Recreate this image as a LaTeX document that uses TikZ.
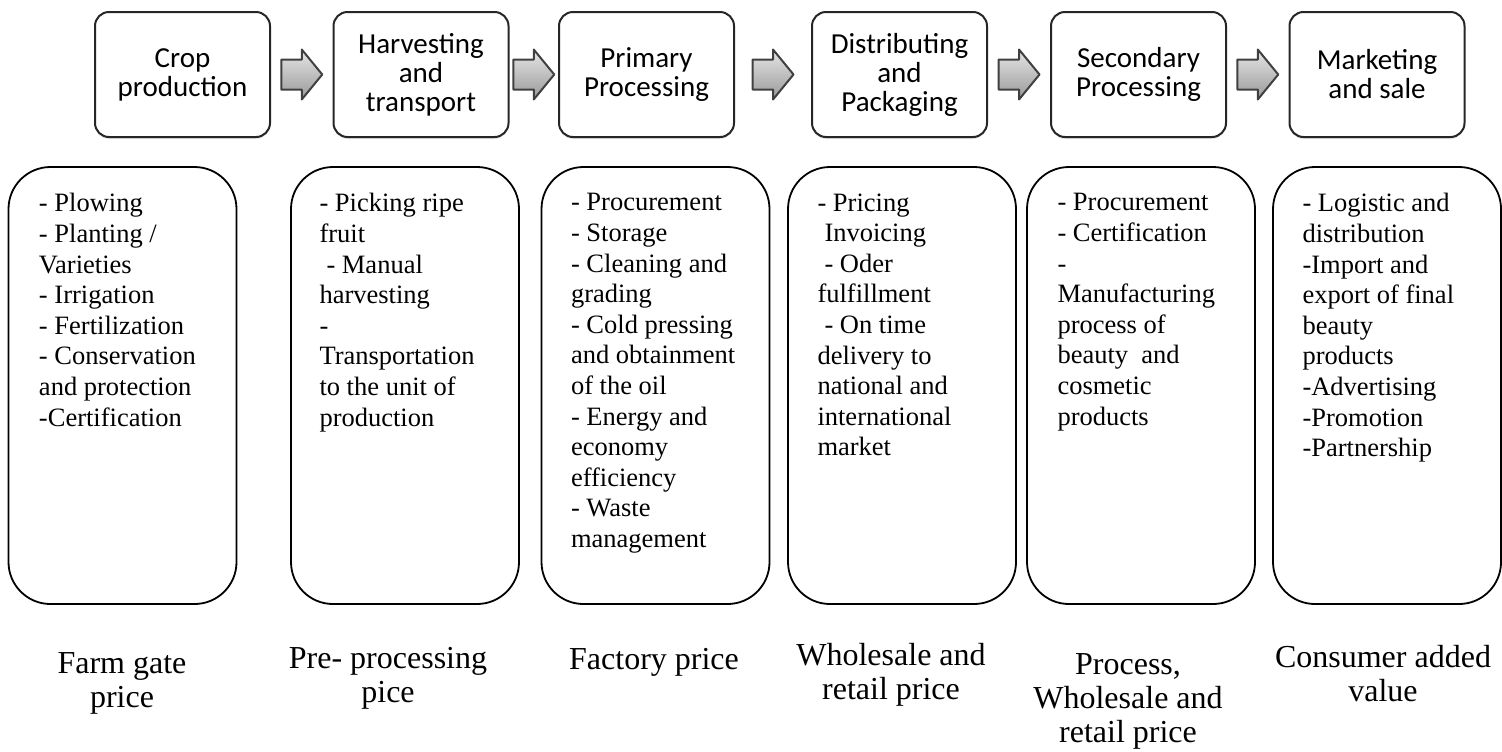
\documentclass[tikz,border=0pt]{standalone}
\usepackage{fontspec}
\setmainfont{Liberation Serif}
\newfontfamily\stagefont{Carlito}
\usetikzlibrary{calc,shadows}
\tikzset{stage/.style={draw=black!85,line width=1pt,rounded corners=7pt,fill=white,minimum width=87.5pt,minimum height=62.5pt,align=center,inner sep=0pt,font=\stagefont\fontsize{14.5}{14.5}\selectfont,drop shadow={opacity=0.2,shadow xshift=0pt,shadow yshift=-1pt}}}
\tikzset{flow/.style={draw=black!75,line width=1pt,line join=round,top color=black!10,bottom color=black!40}}
\tikzset{task/.style={draw,line width=0.9pt,rounded corners=21pt,minimum width=114pt,minimum height=218.5pt}}
\tikzset{tasktext/.style={anchor=north west,align=left,inner sep=0pt,font=\fontsize{13.25}{15.3}\selectfont}}
\tikzset{price/.style={anchor=north,align=center,inner sep=0pt,font=\fontsize{16}{17}\selectfont}}

\begin{document}
\begin{tikzpicture}[x=0.5pt,y=-0.5pt]
    \useasboundingbox (0,0) rectangle (1502,751);
    \node[stage] (s1) at (182.5,74.5) {Crop\\production};
    \node[stage] (s2) at (421,74.5) {Harvesting\\and\\transport};
    \node[stage] (s3) at (646.5,74.5) {Primary\\Processing};
    \node[stage] (s4) at (899.5,74.5) {Distributing\\and\\Packaging};
    \node[stage] (s5) at (1138.5,74.5) {Secondary\\Processing};
    \node[stage] (s6) at (1377,74.5) {Marketing\\and sale};
    \foreach \a/\b in {s1/s2,s2/s3,s3/s4,s4/s5,s5/s6}
      \draw[flow] ($(\a.east)!.5!(\b.west)$) ++(-20.5,-15) -- ++(20.5,0) -- ++(0,-10) -- ++(20.5,25) -- ++(-20.5,25) -- ++(0,-10) -- ++(-20.5,0) -- cycle;
    \node[task] (b1) at (122.5,385.5) {};
    \node[task] (b2) at (405,385.5) {};
    \node[task] (b3) at (655.5,385.5) {};
    \node[task] (b4) at (902,385.5) {};
    \node[task] (b5) at (1141,385.5) {};
    \node[task] (b6) at (1387,385.5) {};
    \node[tasktext] (t1) at ([shift={(31,27)}]b1.north west) {- Plowing\\- Planting /\\Varieties\\- Irrigation\\- Fertilization\\- Conservation\\and protection\\-Certification};
    \node[tasktext] (t2) at ([shift={(29,27)}]b2.north west) {- Picking ripe\\fruit\\\hspace*{3.5pt}- Manual\\harvesting\\-\\Transportation\\to the unit of\\production};
    \node[tasktext] (t3) at ([shift={(30,27)}]b3.north west) {- Procurement\\- Storage\\- Cleaning and\\grading\\- Cold pressing\\and obtainment\\of the oil\\- Energy and\\economy\\efficiency\\- Waste\\management};
    \node[tasktext] (t4) at ([shift={(30,27)}]b4.north west) {- Pricing\\\hspace*{3.5pt}Invoicing\\\hspace*{3.5pt}- Oder\\fulfillment\\\hspace*{3.5pt}- On time\\delivery to\\national and\\international\\market};
    \node[tasktext] (t5) at ([shift={(31,27)}]b5.north west) {- Procurement\\- Certification\\-\\Manufacturing\\process of\\beauty\ \ and\\cosmetic\\products};
    \node[tasktext] (t6) at ([shift={(30,27)}]b6.north west) {- Logistic and\\distribution\\-Import and\\export of final\\beauty\\products\\-Advertising\\-Promotion\\-Partnership};
    \node[price] (p1) at (122,652) {Farm gate\\price};
    \node[price] (p2) at (388,647) {Pre- processing\\pice};
    \node[price] (p3) at (654,648) {Factory price};
    \node[price] (p4) at (891,643) {Wholesale and\\retail price};
    \node[price] (p5) at (1128,653) {Process,\\Wholesale and\\retail price};
    \node[price] (p6) at (1383,645) {Consumer added\\value};
\end{tikzpicture}
\end{document}
